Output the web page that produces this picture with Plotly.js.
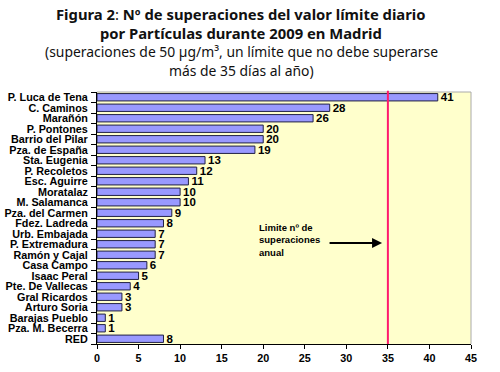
<!DOCTYPE html>
<html><head><meta charset="utf-8">
<script src="https://cdn.plot.ly/plotly-3.0.1.min.js"></script>
<style>body{margin:0;background:#fff}#c{width:500px;height:372px}</style>
</head><body><div id="c"></div>
<script>
const stations = ["P. Luca de Tena","C. Caminos","Marañón","P. Pontones","Barrio del Pilar","Pza. de España","Sta. Eugenia","P. Recoletos","Esc. Aguirre","Moratalaz","M. Salamanca","Pza. del Carmen","Fdez. Ladreda","Urb. Embajada","P. Extremadura","Ramón y Cajal","Casa Campo","Isaac Peral","Pte. De Vallecas","Gral Ricardos","Arturo Soria","Barajas Pueblo","Pza. M. Becerra","RED"];
const exceedances = [41,28,26,20,20,19,13,12,11,10,10,9,8,7,7,7,6,5,4,3,3,1,1,8];
const limitValue = 35;
const xTicks = [0,5,10,15,20,25,30,35,40,45];
const titleLines = [
  '<b>Figura 2</b>: <b>Nº de superaciones del valor límite diario</b>',
  '<b>por Partículas durante 2009 en Madrid</b>',
  '(superaciones de 50 µg/m³, un límite que no debe superarse',
  'más de 35 días al año)'
];

const lab = {family:'Liberation Sans, Arial', size:10.8, color:'#000', weight:'bold'};
const trace = {
  type:'bar', orientation:'h',
  x: exceedances, y: stations,
  marker:{color:'#9999FF', line:{color:'#222244', width:1}},
  text: exceedances.map(String), textposition:'outside', constraintext:'none',
  textfont:{family:'Liberation Sans, Arial', size:11.5, color:'#000', weight:'bold'},
  cliponaxis:false, hoverinfo:'none'
};
const plotTop = 92, plotBot = 344;
const py = p => (plotBot - p) / (plotBot - plotTop);
const titleY = [14, 33, 52, 70];
const titleSizes = [14.8, 14.8, 13.9, 13.9];
const annotations = titleLines.map((t,i)=>({
  xref:'paper', yref:'paper', x:0.386, y:py(titleY[i]), xanchor:'center', yanchor:'middle', showarrow:false,
  text:t, font:{family:'Noto Sans, Open Sans', size:titleSizes[i], color:'#111'}
}));
annotations.push(
  {xref:'x', yref:'paper', x:19.2, y:py(240), xanchor:'left', yanchor:'middle', align:'left', showarrow:false,
   text:'<b>Limite nº de<br>superaciones<br>anual</b>', font:{family:'Liberation Sans, Arial', size:9.5, color:'#000', weight:'bold'}},
  {xref:'x', yref:'paper', x:34.3, y:py(243), ax:-54, ay:0, showarrow:true, arrowhead:2, arrowsize:1, arrowwidth:2, arrowcolor:'#000', text:''}
);
const layout = {
  width:500, height:372,
  margin:{l:97, r:29, t:92, b:28},
  paper_bgcolor:'#fff', plot_bgcolor:'#FFFFCC',
  showlegend:false, bargap:0.3,
  xaxis:{range:[0,45], tickvals:xTicks, showgrid:false, zeroline:false,
    showline:true, linecolor:'#000', linewidth:1, ticks:'outside', ticklen:4, tickcolor:'#000',
    tickfont:lab, fixedrange:true},
  yaxis:{type:'category', autorange:'reversed', showgrid:false, showline:true, linecolor:'#000', linewidth:1,
    tickmode:'array', tickvals:stations, ticktext:stations,
    ticks:'outside', ticklen:5, tickcolor:'#000', tickson:'boundaries', ticklabelstandoff:6,
    tickfont:lab, fixedrange:true, automargin:false},
  shapes:[
    {type:'line', xref:'paper', yref:'paper', x0:0, x1:1, y0:1, y1:1, line:{color:'#aaa', width:1}},
    {type:'line', xref:'paper', yref:'paper', x0:1, x1:1, y0:0, y1:1, line:{color:'#aaa', width:1}},
    {type:'line', xref:'x', yref:'paper', x0:limitValue, x1:limitValue, y0:0, y1:1.005, line:{color:'#FF1A6E', width:2}}
  ],
  annotations
};
Plotly.newPlot('c',[trace],layout,{displayModeBar:false,staticPlot:true});
</script></body></html>
